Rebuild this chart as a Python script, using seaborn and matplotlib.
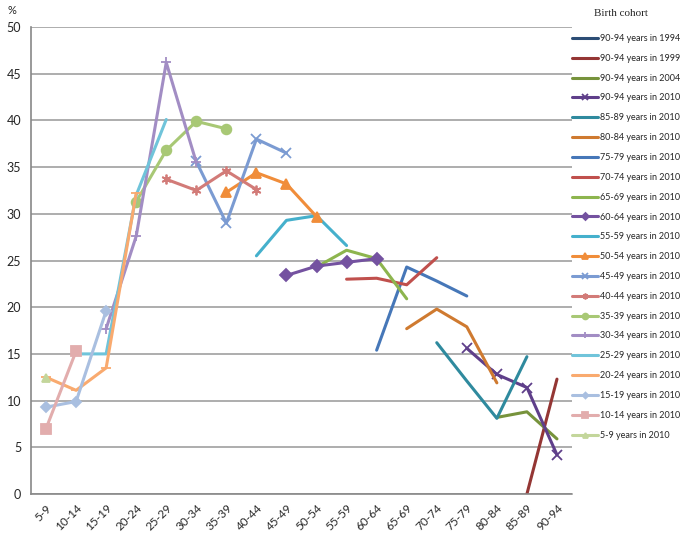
import pandas as pd
import numpy as np
import matplotlib.pyplot as plt
import seaborn as sns

# age groups on the x axis
age_groups = ["5-9", "10-14", "15-19", "20-24", "25-29", "30-34", "35-39",
              "40-44", "45-49", "50-54", "55-59", "60-64", "65-69", "70-74",
              "75-79", "80-84", "85-89", "90-94"]

# birth cohorts (legend order)
cohort_labels = ["90-94 years in 1994", "90-94 years in 1999", "90-94 years in 2004",
                 "90-94 years in 2010", "85-89 years in 2010", "80-84 years in 2010",
                 "75-79 years in 2010", "70-74 years in 2010", "65-69 years in 2010",
                 "60-64 years in 2010", "55-59 years in 2010", "50-54 years in 2010",
                 "45-49 years in 2010", "40-44 years in 2010", "35-39 years in 2010",
                 "30-34 years in 2010", "25-29 years in 2010", "20-24 years in 2010",
                 "15-19 years in 2010", "10-14 years in 2010", "5-9 years in 2010"]

# age group at which each cohort is first observed
cohort_start = ["90-94", "85-89", "80-84", "75-79", "70-74", "65-69", "60-64",
                "55-59", "50-54", "45-49", "40-44", "35-39", "30-34", "25-29",
                "20-24", "15-19", "10-14", "5-9", "5-9", "5-9", "5-9"]

# % values for consecutive age groups of each cohort
cohort_values = [
    [5.0],
    [0.0, 12.3],
    [8.2, 8.8, 5.9],
    [15.6, 12.8, 11.4, 4.2],
    [16.2, 12.1, 8.1, 14.7],
    [17.7, 19.8, 17.9, 11.9],
    [15.4, 24.3, 22.8, 21.2],
    [23.0, 23.1, 22.4, 25.3],
    [24.3, 26.1, 25.2, 20.9],
    [23.4, 24.4, 24.8, 25.2],
    [25.5, 29.3, 29.8, 26.6],
    [32.3, 34.4, 33.2, 29.7],
    [35.6, 29.0, 38.0, 36.5],
    [33.7, 32.5, 34.6, 32.6],
    [31.3, 36.8, 39.9, 39.1],
    [17.7, 27.6, 46.2, 35.5],
    [15.0, 15.0, 32.0, 40.1],
    [12.5, 11.1, 13.5, 32.2],
    [9.3, 9.9, 19.6],
    [7.0, 15.3],
    [12.4],
]

colors = ["#2c4d75", "#943634", "#77933c", "#5f3f8a", "#2f8a9e", "#cf7a30",
          "#4677b8", "#c0504d", "#8db54e", "#7452a0", "#45b0cc", "#f08d3a",
          "#7b9bd2", "#d27b78", "#a8c875", "#a28dc4", "#70c4da", "#f9aa6f",
          "#a9bfe0", "#e2adad", "#c3d69b"]
markers = [None, None, None, "x", None, None, None, None, None, "D", None, "^",
           "x", (6, 2, 0), "o", "+", None, "_", "D", "s", "^"]
msizes = [0, 0, 0, 7, 0, 0, 0, 0, 0, 6, 0, 7, 7, 7, 7, 7, 0, 7, 5, 7, 6]

rows = []
for lab, start, vals in zip(cohort_labels, cohort_start, cohort_values):
    i0 = age_groups.index(start)
    for k, v in enumerate(vals):
        rows.append({"cohort": lab, "pos": i0 + k, "value": v})
df = pd.DataFrame(rows)

sns.set_style("white")
plt.rcParams["font.family"] = ["Lato", "DejaVu Sans"]

fig = plt.figure(figsize=(6.85, 5.34), dpi=100)
ax = fig.add_axes([31 / 685, 1 - 494 / 534, (572 - 31) / 685, (494 - 27) / 534])

for lab, c, m, ms in zip(cohort_labels, colors, markers, msizes):
    d = df[df["cohort"] == lab]
    sns.lineplot(data=d, x="pos", y="value", ax=ax, color=c, lw=2.2,
                 marker=m, markersize=ms, markeredgecolor=c, markeredgewidth=1.3,
                 label=lab, legend=False)

ax.set_xlim(-0.5, len(age_groups) - 0.5)
ax.set_ylim(0, 50)
ax.set_yticks(np.arange(0, 51, 5))
ax.set_xticks(np.arange(len(age_groups)))
ax.set_xticklabels(age_groups, rotation=45, ha="right", rotation_mode="anchor")
ax.set_xticks(np.arange(len(age_groups) + 1) - 0.5, minor=True)
ax.tick_params(axis="x", which="major", length=0, labelsize=8.5, pad=6)
ax.tick_params(axis="x", which="minor", length=4, color="#888888", width=1)
ax.tick_params(axis="y", length=4, color="#888888", labelsize=9, pad=3)
ax.yaxis.grid(True, color="#a0a0a0", lw=1.2)
ax.set_axisbelow(True)
for s in ["top", "right"]:
    ax.spines[s].set_visible(False)
for s in ["left", "bottom"]:
    ax.spines[s].set_color("#888888")
    ax.spines[s].set_linewidth(1.2)
ax.set_xlabel("")
ax.set_ylabel("")

fig.text(8 / 685, 1 - 10 / 534, "%", fontsize=8, ha="left", va="center")
fig.text(621 / 685, 1 - 14 / 534, "Birth cohort", fontsize=8,
         family=["Liberation Serif", "DejaVu Serif"], ha="center", va="center")

handles, labels = ax.get_legend_handles_labels()
leg = fig.legend(handles, labels, loc="upper left",
                 bbox_to_anchor=(572 / 685, 1 - 34 / 534), frameon=False,
                 fontsize=6.5, handlelength=2.9, handletextpad=0.2,
                 labelspacing=1.2, borderpad=0, borderaxespad=0, markerscale=0.6)
leg.set_zorder(5)
fig.patches.append(plt.Rectangle((573 / 685, 0), 112 / 685, 1, transform=fig.transFigure,
                                 color="white", zorder=1))

fig.savefig("out.png", dpi=100)
